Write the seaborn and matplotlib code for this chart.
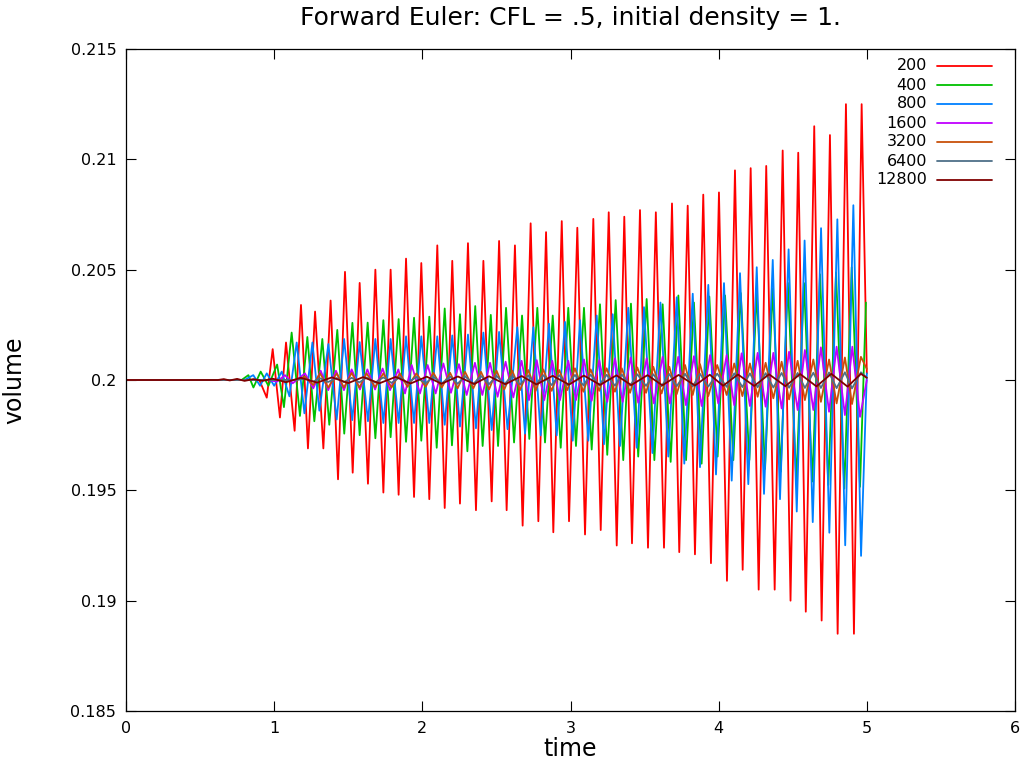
import numpy as np
import pandas as pd
import matplotlib
matplotlib.use("Agg")
import matplotlib.pyplot as plt
import seaborn as sns

# ---------------- data (extrema) ----------------
labels = ["200", "400", "800", "1600", "3200", "6400", "12800"]
colors = ["#ff0000", "#00c000", "#0080ff", "#c000ff", "#c8500a", "#4e7088", "#800000"]

ext_200 = [(0, 0.2), (0.90, 0.2), (0.950, 0.1992), (0.990, 0.2014), (1.039, 0.1983), (1.080, 0.2017),
           (1.138, 0.1977), (1.181, 0.2034), (1.228, 0.1969), (1.276, 0.2031), (1.332, 0.1969),
           (1.381, 0.2036), (1.431, 0.1955), (1.478, 0.2049), (1.530, 0.1958), (1.577, 0.2044),
           (1.633, 0.1953), (1.683, 0.2050), (1.737, 0.1949), (1.786, 0.2050), (1.840, 0.1948),
           (1.890, 0.2055), (1.944, 0.1947), (1.993, 0.2053), (2.047, 0.1946), (2.101, 0.2061),
           (2.151, 0.1942), (2.202, 0.2054), (2.254, 0.1944), (2.308, 0.2062), (2.362, 0.1941),
           (2.412, 0.2054), (2.468, 0.1945), (2.518, 0.2063), (2.569, 0.1941), (2.625, 0.2061),
           (2.677, 0.1934), (2.731, 0.2071), (2.783, 0.1936), (2.835, 0.2067), (2.884, 0.1931),
           (2.941, 0.2072), (2.990, 0.1936), (3.046, 0.2069), (3.098, 0.1930), (3.154, 0.2073),
           (3.204, 0.1932), (3.258, 0.2076), (3.312, 0.1925), (3.363, 0.2074), (3.415, 0.1926),
           (3.469, 0.2077), (3.523, 0.1924), (3.576, 0.2076), (3.631, 0.1924), (3.685, 0.2080),
           (3.734, 0.1922), (3.791, 0.2079), (3.840, 0.1921), (3.896, 0.2084), (3.948, 0.1917),
           (4.002, 0.2085), (4.056, 0.1909), (4.110, 0.2095), (4.162, 0.1914), (4.216, 0.2096),
           (4.270, 0.1905), (4.321, 0.2097), (4.378, 0.1905), (4.432, 0.2104), (4.485, 0.1900),
           (4.537, 0.2103), (4.588, 0.1895), (4.645, 0.2115), (4.695, 0.1891), (4.751, 0.2111),
           (4.803, 0.1885), (4.859, 0.2125), (4.913, 0.1885), (4.965, 0.2125), (5.0, 0.2003)]

ext_400 = [(0, 0.2), (0.78, 0.2), (0.826, 0.20022), (0.860, 0.19966), (0.909, 0.20038), (0.961, 0.19974),
           (1.020, 0.20070), (1.066, 0.19877), (1.118, 0.20215), (1.174, 0.19837), (1.224, 0.20195),
           (1.271, 0.19813), (1.325, 0.20186), (1.372, 0.19797), (1.426, 0.20227), (1.473, 0.19757),
           (1.528, 0.20259), (1.577, 0.19750), (1.631, 0.20260), (1.683, 0.19736), (1.737, 0.20271),
           (1.786, 0.19741), (1.840, 0.20276), (1.890, 0.19720), (1.944, 0.20282), (1.993, 0.19725),
           (2.047, 0.20287), (2.097, 0.19693), (2.151, 0.20324), (2.200, 0.19704), (2.254, 0.20298),
           (2.304, 0.19677), (2.357, 0.20335), (2.407, 0.19701), (2.462, 0.20295), (2.511, 0.19701),
           (2.565, 0.20327), (2.619, 0.19717), (2.673, 0.20292), (2.722, 0.19733), (2.776, 0.20327),
           (2.828, 0.19717), (2.880, 0.20292), (2.934, 0.19693), (2.985, 0.20327), (3.037, 0.19701),
           (3.091, 0.20327), (3.143, 0.19685), (3.199, 0.20343), (3.248, 0.19661), (3.305, 0.20362),
           (3.356, 0.19637), (3.408, 0.20346), (3.457, 0.19653), (3.514, 0.20367), (3.566, 0.19637),
           (3.622, 0.20343), (3.676, 0.19629), (3.728, 0.20383), (3.780, 0.19637), (3.833, 0.20351),
           (3.885, 0.19621), (3.937, 0.20378), (3.993, 0.19653), (4.043, 0.20383), (4.099, 0.19637),
           (4.149, 0.20394), (4.207, 0.19637), (4.257, 0.20399), (4.313, 0.19597), (4.365, 0.20415),
           (4.419, 0.19585), (4.467, 0.20440), (4.524, 0.19540), (4.576, 0.20439), (4.632, 0.19540),
           (4.684, 0.20479), (4.740, 0.19524), (4.792, 0.20487), (4.848, 0.19508), (4.898, 0.20511),
           (4.954, 0.19516), (4.994, 0.20351)]

ext_800 = [(0, 0.2), (0.80, 0.2), (0.859, 0.20022), (0.905, 0.19974), (0.950, 0.20030), (1.000, 0.19974),
           (1.051, 0.20038), (1.103, 0.19926), (1.152, 0.20170), (1.204, 0.19849), (1.258, 0.20170),
           (1.305, 0.19861), (1.366, 0.20163), (1.422, 0.19821), (1.472, 0.20186), (1.527, 0.19818),
           (1.577, 0.20172), (1.633, 0.19813), (1.683, 0.20186), (1.737, 0.19805), (1.786, 0.20186),
           (1.840, 0.19805), (1.890, 0.20198), (1.944, 0.19805), (1.993, 0.20198), (2.047, 0.19805),
           (2.101, 0.20198), (2.151, 0.19797), (2.202, 0.20202), (2.254, 0.19789), (2.308, 0.20206),
           (2.362, 0.19781), (2.412, 0.20215), (2.468, 0.19773), (2.518, 0.20218), (2.575, 0.19777),
           (2.641, 0.20239), (2.693, 0.19757), (2.749, 0.20239), (2.799, 0.19749), (2.855, 0.20255),
           (2.907, 0.19749), (2.963, 0.20263), (3.015, 0.19725), (3.064, 0.20271), (3.120, 0.19725),
           (3.177, 0.20292), (3.226, 0.19709), (3.285, 0.20298), (3.334, 0.19701), (3.390, 0.20327),
           (3.447, 0.19693), (3.496, 0.20330), (3.553, 0.19669), (3.607, 0.20351), (3.660, 0.19653),
           (3.717, 0.20375), (3.768, 0.19621), (3.825, 0.20391), (3.874, 0.19605), (3.930, 0.20431),
           (3.982, 0.19572), (4.036, 0.20439), (4.088, 0.19544), (4.144, 0.20484), (4.200, 0.19528),
           (4.257, 0.20511), (4.306, 0.19484), (4.365, 0.20544), (4.414, 0.19460), (4.472, 0.20592),
           (4.527, 0.19404), (4.580, 0.20632), (4.635, 0.19356), (4.691, 0.20688), (4.747, 0.19308),
           (4.801, 0.20728), (4.854, 0.19251), (4.909, 0.20792), (4.961, 0.19203), (5.0, 0.2003)]

ext_1600 = [(0, 0.2), (0.95, 0.2), (1.020, 0.19993), (1.073, 0.20022), (1.125, 0.19985), (1.208, 0.20030),
            (1.264, 0.19962), (1.314, 0.20042), (1.365, 0.19954), (1.417, 0.20042), (1.471, 0.19954),
            (1.523, 0.20048), (1.579, 0.19957), (1.629, 0.20048), (1.681, 0.19957), (1.732, 0.20052),
            (1.782, 0.19954), (1.838, 0.20048), (1.883, 0.19939), (1.928, 0.20068), (1.984, 0.19939),
            (2.036, 0.20068), (2.090, 0.19939), (2.142, 0.20075), (2.193, 0.19942), (2.247, 0.20072),
            (2.299, 0.19932), (2.355, 0.20078), (2.405, 0.19932), (2.457, 0.20078), (2.508, 0.19924),
            (2.562, 0.20083), (2.614, 0.19921), (2.670, 0.20087), (2.720, 0.19909), (2.772, 0.20090),
            (2.823, 0.19909), (2.877, 0.20087), (2.929, 0.19909), (2.985, 0.20087), (3.037, 0.19909),
            (3.091, 0.20093), (3.143, 0.19906), (3.194, 0.20090), (3.248, 0.19901), (3.300, 0.20098),
            (3.352, 0.19901), (3.406, 0.20102), (3.457, 0.19897), (3.514, 0.20098), (3.563, 0.19894),
            (3.622, 0.20105), (3.671, 0.19894), (3.727, 0.20105), (3.779, 0.19886), (3.833, 0.20108),
            (3.885, 0.19882), (3.942, 0.20113), (3.997, 0.19894), (4.054, 0.20113), (4.105, 0.19886),
            (4.155, 0.20121), (4.211, 0.19882), (4.263, 0.20123), (4.317, 0.19879), (4.369, 0.20123),
            (4.425, 0.19871), (4.475, 0.20128), (4.533, 0.19864), (4.582, 0.20136), (4.639, 0.19864),
            (4.690, 0.20148), (4.745, 0.19856), (4.796, 0.20151), (4.852, 0.19841), (4.902, 0.20151),
            (4.954, 0.19833), (5.0, 0.2000)]

ext_3200 = [(0, 0.2), (1.15, 0.2), (1.208, 0.20015), (1.264, 0.19977), (1.309, 0.20030), (1.365, 0.19966),
            (1.422, 0.20030), (1.471, 0.19966), (1.523, 0.20032), (1.575, 0.19966), (1.624, 0.20030),
            (1.681, 0.19968), (1.737, 0.20030), (1.792, 0.19966), (1.848, 0.20030), (1.900, 0.19969),
            (1.960, 0.20030), (2.022, 0.19969), (2.074, 0.20033), (2.131, 0.19966), (2.187, 0.20033),
            (2.238, 0.19962), (2.288, 0.20037), (2.344, 0.19962), (2.396, 0.20037), (2.450, 0.19957),
            (2.501, 0.20042), (2.553, 0.19957), (2.607, 0.20042), (2.659, 0.19954), (2.715, 0.20045),
            (2.765, 0.19951), (2.816, 0.20048), (2.873, 0.19951), (2.924, 0.20045), (2.978, 0.19954),
            (3.030, 0.20053), (3.087, 0.19947), (3.136, 0.20048), (3.194, 0.19951), (3.244, 0.20053),
            (3.300, 0.19947), (3.346, 0.20053), (3.402, 0.19942), (3.451, 0.20057), (3.510, 0.19942),
            (3.559, 0.20060), (3.615, 0.19939), (3.667, 0.20060), (3.717, 0.19936), (3.773, 0.20068),
            (3.825, 0.19932), (3.874, 0.20072), (3.930, 0.19927), (3.990, 0.20068), (4.054, 0.19932),
            (4.105, 0.20075), (4.160, 0.19927), (4.211, 0.20075), (4.263, 0.19924), (4.317, 0.20078),
            (4.369, 0.19917), (4.425, 0.20083), (4.475, 0.19912), (4.533, 0.20087), (4.582, 0.19909),
            (4.639, 0.20093), (4.690, 0.19901), (4.745, 0.20093), (4.796, 0.19894), (4.852, 0.20102),
            (4.900, 0.19891), (4.960, 0.20105), (5.0, 0.2005)]

ext_6400 = [(0, 0.2), (1.15, 0.2), (1.208, 0.20006), (1.264, 0.19993), (1.309, 0.20008), (1.365, 0.19991),
            (1.422, 0.20009), (1.471, 0.19990), (1.523, 0.20010), (1.575, 0.19989), (1.624, 0.20011),
            (1.681, 0.19988), (1.737, 0.20012), (1.792, 0.19987), (1.848, 0.20013), (1.900, 0.19986),
            (1.960, 0.20014), (2.022, 0.19985), (2.074, 0.20015), (2.131, 0.19984), (2.187, 0.20016),
            (2.238, 0.19983), (2.288, 0.20017), (2.344, 0.19982), (2.396, 0.20018), (2.450, 0.19981),
            (2.501, 0.20019), (2.553, 0.19980), (2.607, 0.20020), (2.659, 0.19979), (2.715, 0.20021),
            (2.765, 0.19978), (2.816, 0.20022), (2.873, 0.19977), (2.924, 0.20022), (2.978, 0.19976),
            (3.030, 0.20023), (3.087, 0.19976), (3.136, 0.20024), (3.194, 0.19975), (3.244, 0.20024),
            (3.300, 0.19974), (3.346, 0.20025), (3.402, 0.19974), (3.451, 0.20026), (3.510, 0.19973),
            (3.559, 0.20026), (3.615, 0.19972), (3.667, 0.20027), (3.717, 0.19972), (3.773, 0.20028),
            (3.825, 0.19971), (3.874, 0.20028), (3.930, 0.19970), (3.990, 0.20029), (4.054, 0.19969),
            (4.105, 0.20030), (4.160, 0.19968), (4.211, 0.20030), (4.263, 0.19967), (4.317, 0.20031),
            (4.369, 0.19966), (4.425, 0.20032), (4.475, 0.19965), (4.533, 0.20032), (4.582, 0.19964),
            (4.639, 0.20033), (4.690, 0.19964), (4.745, 0.20034), (4.796, 0.19963), (4.852, 0.20035),
            (4.900, 0.19962), (4.960, 0.20035), (5.0, 0.2001)]

ext_12800 = [(0, 0.2), (0.62, 0.2), (0.66, 0.20004), (0.70, 0.19998), (0.75, 0.20005), (0.80, 0.19996),
             (0.86, 0.20004), (0.92, 0.19996), (0.99, 0.20006), (1.08, 0.19990), (1.18, 0.20010),
             (1.29, 0.19988), (1.39, 0.20012), (1.50, 0.19986), (1.60, 0.20013), (1.71, 0.19985),
             (1.82, 0.20014), (1.92, 0.19984), (2.03, 0.20015), (2.13, 0.19983), (2.24, 0.20016),
             (2.35, 0.19982), (2.45, 0.20017), (2.56, 0.19981), (2.67, 0.20018), (2.77, 0.19980),
             (2.88, 0.20019), (2.99, 0.19979), (3.09, 0.20020), (3.20, 0.19978), (3.31, 0.20021),
             (3.41, 0.19977), (3.52, 0.20022), (3.62, 0.19976), (3.73, 0.20023), (3.84, 0.19975),
             (3.94, 0.20024), (4.03, 0.19974), (4.13, 0.20025), (4.24, 0.19973), (4.34, 0.20026),
             (4.45, 0.19972), (4.55, 0.20027), (4.66, 0.19971), (4.76, 0.20028), (4.87, 0.19970),
             (4.96, 0.20028), (5.0, 0.20010)]

series = [ext_200, ext_400, ext_800, ext_1600, ext_3200, ext_6400, ext_12800]

frames = []
for lab, ext in zip(labels, series):
    d = pd.DataFrame(ext, columns=["time", "volume"])
    d["N"] = lab
    frames.append(d)
df = pd.concat(frames, ignore_index=True)

# ---------------- figure ----------------
sns.set_style("ticks")
plt.rcParams["font.family"] = ["DejaVu Sans"]
plt.rcParams["text.color"] = "black"
plt.rcParams["axes.labelcolor"] = "black"

fig = plt.figure(figsize=(10.23, 7.68), dpi=100)
ax = fig.add_axes([126 / 1023, 1 - 711 / 768, 889 / 1023, 662 / 768])

sns.lineplot(data=df, x="time", y="volume", hue="N", hue_order=labels,
             palette=dict(zip(labels, colors)), estimator=None, sort=False,
             linewidth=1.3, legend=False, ax=ax)

ax.set_xlim(0, 6)
ax.set_ylim(0.185, 0.215)
xt = [0, 1, 2, 3, 4, 5, 6]
yt = [0.185, 0.19, 0.195, 0.2, 0.205, 0.21, 0.215]
ax.set_xticks(xt)
ax.set_xticklabels([str(v) for v in xt])
ax.set_yticks(yt)
ax.set_yticklabels(["0.185", "0.19", "0.195", "0.2", "0.205", "0.21", "0.215"])
ax.tick_params(direction="in", top=True, right=True, length=7, width=0.8,
               labelsize=11.5, colors="black", pad=7)
for s in ax.spines.values():
    s.set_color("black")
    s.set_linewidth(0.9)

ax.set_xlabel("time", fontsize=17, labelpad=1, color="black")
ax.set_ylabel("volume", fontsize=17, labelpad=32, color="black")
ax.set_title("Forward Euler: CFL = .5, initial density = 1.", fontsize=18, pad=17, color="black")

# gnuplot-style key: right-aligned labels, sample line to the right
y0 = (711 - 66) / 662
dy = 19 / 662
for i, (lab, col) in enumerate(zip(labels, colors)):
    yy = y0 - i * dy
    ax.text(0.901, yy, lab, transform=ax.transAxes, ha="right", va="center", fontsize=11.5,
            color="black")
    ax.plot([0.912, 0.974], [yy, yy], transform=ax.transAxes, color=col, lw=1.3, clip_on=False)

fig.savefig("out.png", dpi=100)
